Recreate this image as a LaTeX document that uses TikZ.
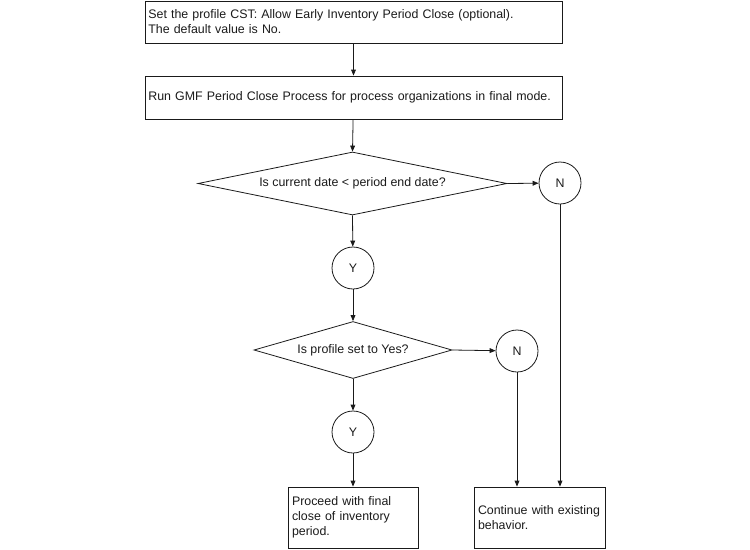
\documentclass[tikz,border=0pt]{standalone}
\usepackage{fontspec}
\setmainfont{Liberation Sans}
\usetikzlibrary{arrows.meta, shapes.geometric}
\definecolor{flowline}{HTML}{1A1A1A}

\begin{document}
\begin{tikzpicture}[x=0.75pt, y=-0.75pt, color=flowline, line width=0.6pt,
    font=\fontsize{9.3}{11.25}\selectfont,
    flow/.style={-{Triangle[length=4.5pt, width=3.6pt]}},
    stepbox/.style={draw, rectangle, align=left, inner xsep=2.5pt, inner ysep=0pt},
    decision/.style={draw, diamond, aspect=5, inner sep=0pt},
    answer/.style={draw, circle, minimum size=31.5pt, inner sep=0pt}]
  \useasboundingbox (0,0) rectangle (750,550);

  % Process steps
  \node[stepbox, text width=307.75pt, minimum height=31.5pt] (profile) at (353.5,22)
    {Set the profile CST: Allow Early Inventory Period Close (optional).\\The default value is No.};
  \node[stepbox, text width=307.75pt, minimum height=32.25pt] (runclose) at (353.5,97.5)
    {Run GMF Period Close Process for process organizations in final mode.};

  % First check
  \node[decision, minimum width=231.75pt, minimum height=47.25pt] (datecheck) at (352.5,183.5)
    {Is current date < period end date?};
  \node[answer] (dateno) at (560,183) {N};
  \node[answer] (dateyes) at (353,268) {Y};

  % Second check
  \node[decision, minimum width=148.5pt, minimum height=42.75pt] (profcheck) at (353,350)
    {Is profile set to Yes?};
  \node[answer] (profno) at (517,351) {N};
  \node[answer] (profyes) at (353,432) {Y};

  % Outcomes
  \node[stepbox, inner xsep=3pt, text width=91.5pt, minimum height=45.75pt] (proceed) at (353,517.5)
    {Proceed with final\\close of inventory\\period.};
  \node[stepbox, inner xsep=3pt, text width=92.25pt, minimum height=45.75pt] (continue) at (539.5,517.5)
    {Continue with existing\\behavior.};

  % Connectors
  \draw[flow] (profile) -- (runclose);
  \draw[flow] (runclose) -- (datecheck.north);
  \draw[flow] (datecheck.east) -- (dateno);
  \draw[flow] (datecheck.south) -- (dateyes);
  \draw[flow] (dateyes) -- (profcheck.north);
  \draw[flow] (profcheck.east) -- (profno);
  \draw[flow] (profcheck.south) -- (profyes);
  \draw[flow] (profyes) -- (proceed);
  \draw[flow] (profno.south) -- (profno.south |- continue.north);
  \draw[flow] (dateno.south) -- (dateno.south |- continue.north);
\end{tikzpicture}
\end{document}
